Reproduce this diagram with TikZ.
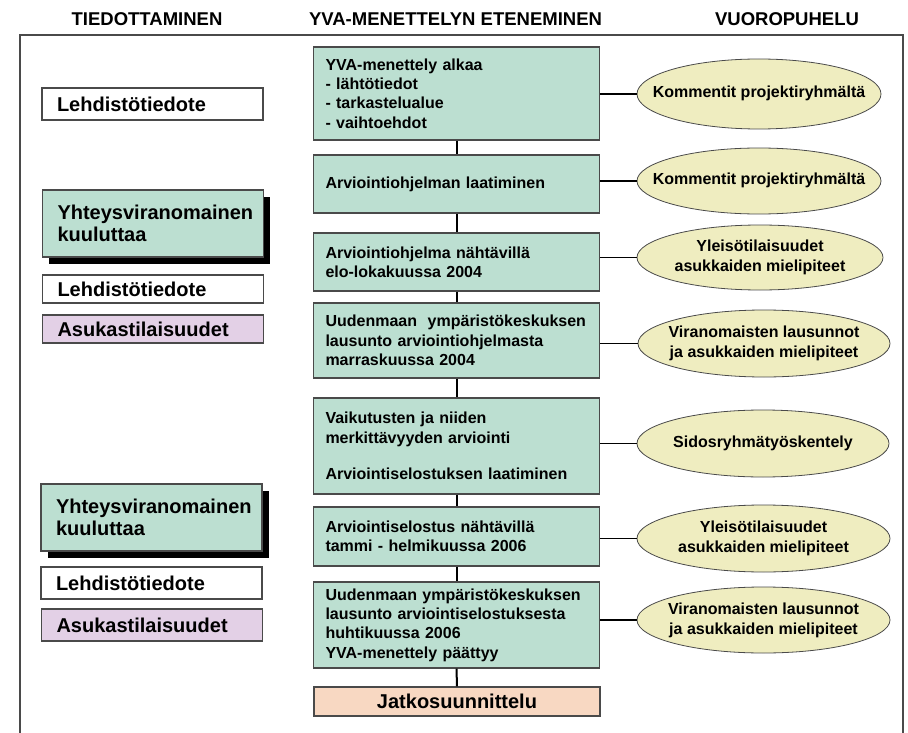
\documentclass[tikz,border=0pt]{standalone}
\usepackage{fontspec}
\setmainfont{Liberation Sans}
\usetikzlibrary{shapes.geometric,shadows}
\definecolor{boxgreen}{HTML}{BCDFD1}
\definecolor{ellyellow}{HTML}{EFEDC0}
\definecolor{boxpurple}{HTML}{E3D0E6}
\definecolor{boxpeach}{HTML}{F8D8C2}
\definecolor{edgegray}{HTML}{4A4A4A}
\newcommand{\elltext}[1]{\makebox[0pt]{\begin{tabular}{@{}c@{}}#1\end{tabular}}}
\begin{document}
\begin{tikzpicture}[x=1pt,y=-1pt,
  header/.style={font=\fontsize{18.5}{22}\selectfont\bfseries, inner sep=0pt},
  cbox/.style={draw=edgegray, line width=1.1pt, fill=boxgreen, text width=262pt, inner xsep=12pt, inner ysep=0pt, align=left, font=\fontsize{16}{19.3}\selectfont\bfseries},
  ell/.style={ellipse, draw=edgegray, line width=0.8pt, fill=ellyellow, inner sep=0pt, font=\fontsize{16}{20}\selectfont\bfseries},
  lbox/.style={draw=edgegray, line width=1.1pt, fill=white, text width=191pt, inner xsep=15pt, inner ysep=0pt, align=left, font=\fontsize{20}{22}\selectfont\bfseries},
  gbox/.style={lbox, fill=boxgreen, drop shadow={shadow xshift=6.5pt, shadow yshift=-7pt, fill=black, opacity=1}},
  vline/.style={line width=2pt, black},
  hline/.style={line width=1.4pt, black}
]
\useasboundingbox (0,0) rectangle (908,733);
% frame
\draw[edgegray, line width=1.6pt] (20,733) -- (20,35) -- (903,35) -- (903,733);
% headers
\node[header] (h1) at (147,19) {TIEDOTTAMINEN};
\node[header] (h2) at (455.5,19) {YVA-MENETTELYN ETENEMINEN};
\node[header] (h3) at (787,19) {VUOROPUHELU};
% left column
\node[lbox, minimum height=32pt] (l1) at (152.5,104) {Lehdistötiedote};
\node[gbox, minimum height=67pt] (l2) at (153,223.5) {Yhteysviranomainen\\kuuluttaa};
\node[lbox, minimum height=28pt] (l3) at (153,289) {Lehdistötiedote};
\node[lbox, fill=boxpurple, minimum height=28pt] (l4) at (153,329) {Asukastilaisuudet};
\node[gbox, minimum height=67pt] (l5) at (151.5,517.5) {Yhteysviranomainen\\kuuluttaa};
\node[lbox, minimum height=32pt] (l6) at (151.5,583) {Lehdistötiedote};
\node[lbox, fill=boxpurple, minimum height=32pt] (l7) at (152,625) {Asukastilaisuudet};
% center column
\node[cbox, minimum height=93pt] (b1) at (456.5,93.5) {YVA-menettely alkaa\\- lähtötiedot\\- tarkastelualue\\- vaihtoehdot};
\node[cbox, minimum height=58pt] (b2) at (456.5,184) {Arviointiohjelman laatiminen};
\node[cbox, minimum height=58pt] (b3) at (456.5,262) {Arviointiohjelma nähtävillä\\elo-lokakuussa 2004};
\node[cbox, minimum height=75pt] (b4) at (456.5,340.5) {Uudenmaan\ \ ympäristökeskuksen\\lausunto arviointiohjelmasta\\marraskuussa 2004};
\node[cbox, minimum height=96pt] (b5) at (456.5,446) {Vaikutusten ja niiden\\merkittävyyden arviointi\\[17pt]Arviointiselostuksen laatiminen};
\node[cbox, minimum height=59pt] (b6) at (456.5,536.5) {Arviointiselostus nähtävillä\\tammi - helmikuussa 2006};
\node[cbox, minimum height=86pt] (b7) at (456.5,625) {Uudenmaan ympäristökeskuksen\\lausunto arviointiselostuksesta\\huhtikuussa 2006\\YVA-menettely päättyy};
\node[cbox, fill=boxpeach, align=center, font=\fontsize{20}{22}\selectfont\bfseries, minimum height=29pt] (b8) at (457,701.5) {Jatkosuunnittelu};
% right column
\node[ell, minimum width=244pt, minimum height=70pt] (e1) at (759,94) {\elltext{Kommentit projektiryhmältä}};
\node[ell, minimum width=244pt, minimum height=66pt] (e2) at (759,181) {\elltext{Kommentit projektiryhmältä}};
\node[ell, minimum width=246pt, minimum height=65pt] (e3) at (760,257.5) {\elltext{Yleisötilaisuudet\\asukkaiden mielipiteet}};
\node[ell, minimum width=252pt, minimum height=67pt] (e4) at (764,343.5) {\elltext{Viranomaisten lausunnot\\ja asukkaiden mielipiteet}};
\node[ell, minimum width=252pt, minimum height=67pt] (e5) at (763,443.5) {\elltext{Sidosryhmätyöskentely}};
\node[ell, minimum width=253pt, minimum height=67pt] (e6) at (763.5,538.5) {\elltext{Yleisötilaisuudet\\asukkaiden mielipiteet}};
\node[ell, minimum width=253pt, minimum height=66pt] (e7) at (763.5,620) {\elltext{Viranomaisten lausunnot\\ja asukkaiden mielipiteet}};
% vertical connectors
\draw[vline] (b1.south) -- (b2.north);
\draw[vline] (b2.south) -- (b3.north);
\draw[vline] (b3.south) -- (b4.north);
\draw[vline] (b4.south) -- (b5.north);
\draw[vline] (b5.south) -- (b6.north);
\draw[vline] (b6.south) -- (b7.north);
\draw[vline] (b7.south) -- (b8.north);
% horizontal connectors
\foreach \i in {1,...,7} {
  \draw[hline] (b\i.east |- e\i.west) -- (e\i.west);
}
\end{tikzpicture}
\end{document}
